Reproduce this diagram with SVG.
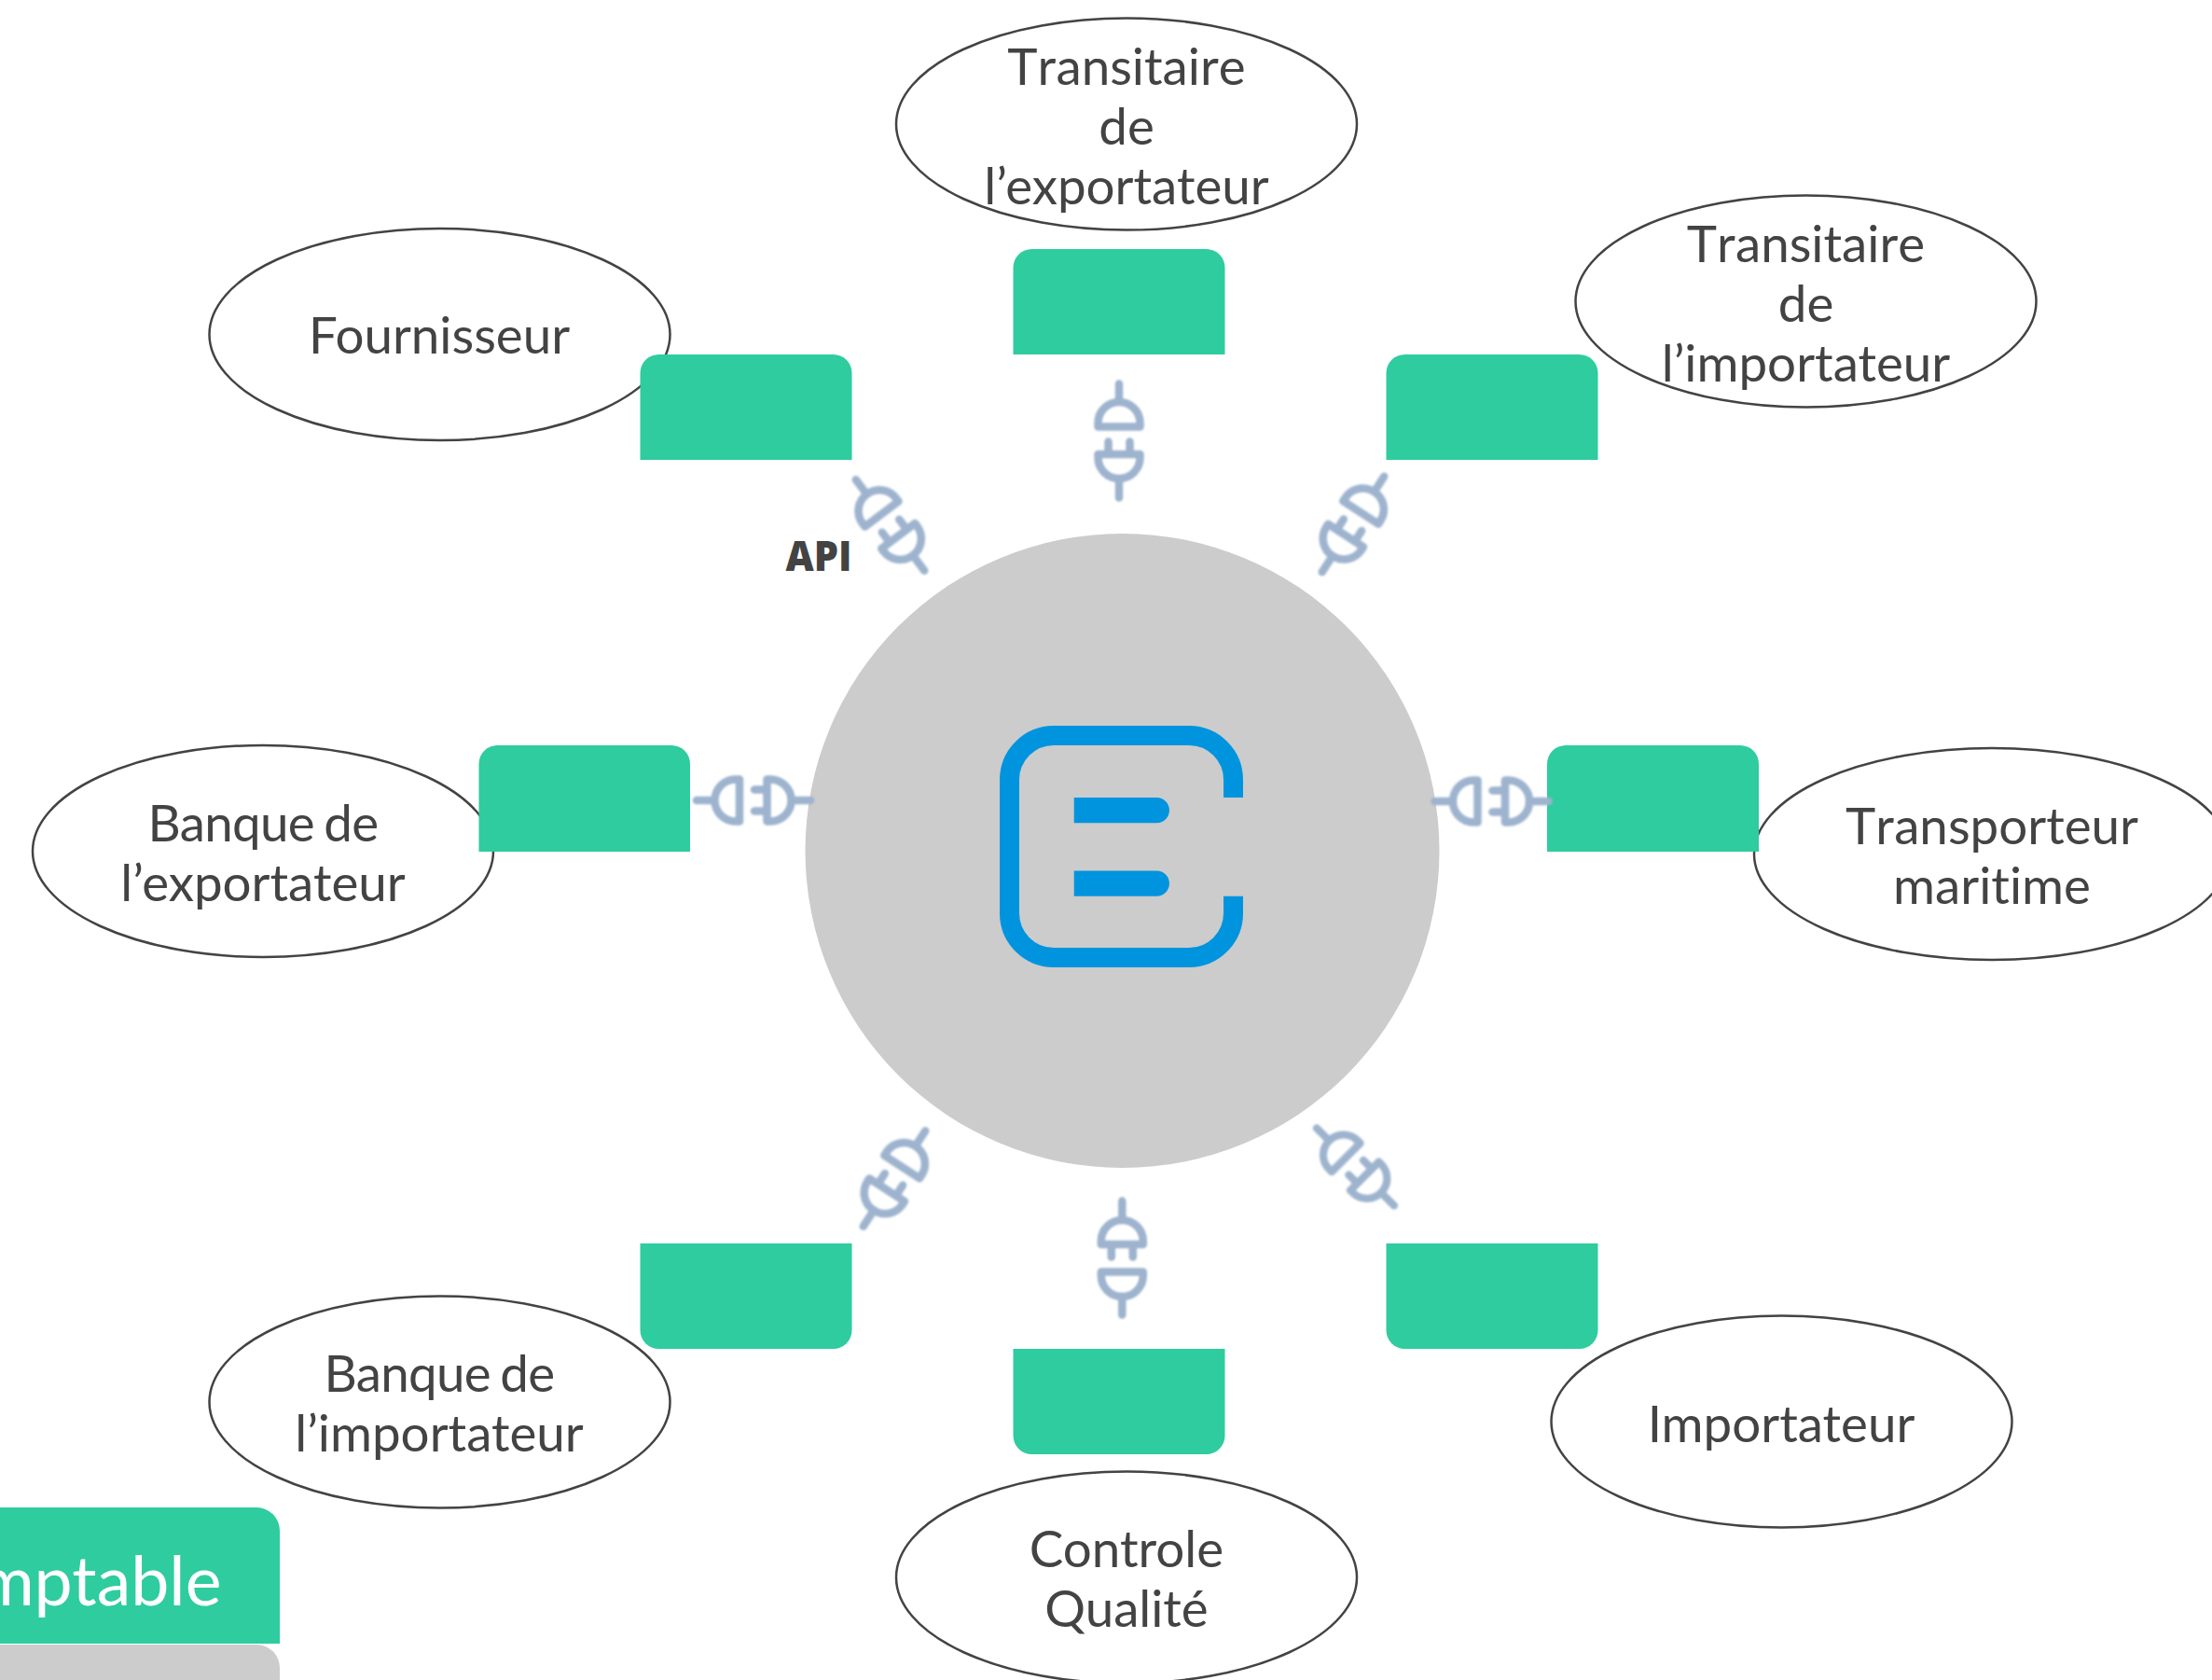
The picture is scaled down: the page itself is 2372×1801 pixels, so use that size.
<svg xmlns="http://www.w3.org/2000/svg" width="2372" height="1801" viewBox="0 0 2372 1801">
<style>
text{font-family:Lato,"Liberation Sans",sans-serif;fill:#434343;font-size:54.700px;text-anchor:middle;font-variant-ligatures:none}
.nk{font-kerning:none}
.ws{word-spacing:-3px;letter-spacing:-0.700px}
.e{fill:#fff;stroke:#434343;stroke-width:2.500}
.g{fill:#2ecc9f}
</style>
<defs>
<filter id="b" x="-20%" y="-20%" width="140%" height="140%"><feGaussianBlur stdDeviation="1"/></filter>
<g id="plug" fill="none" stroke="#9db3ce" stroke-width="8.500" stroke-linecap="round" stroke-linejoin="round" filter="url(#b)">
<path d="M-22.500-15V-19A22.500 22.500 0 0 1 22.500-19V-15ZM0-42V-61"/>
<path d="M-22.500 14.500V18A22.500 22.500 0 0 0 22.500 18V14.500ZM0 41V61M-11.500 14.500V1M11.500 14.500V1"/>
</g>
</defs>
<rect width="2372" height="1801" fill="#fff"/>
<g id="center"><circle cx="1203.500" cy="912" r="340" fill="#ccc"/>
<path d="M1322.500 855V836A47.500 47.500 0 0 0 1275 788.500H1130A47.500 47.500 0 0 0 1082.500 836V979A47.500 47.500 0 0 0 1130 1026.500H1275A47.500 47.500 0 0 0 1322.500 979V960.700" fill="none" stroke="#0094de" stroke-width="21"/>
<path d="M1151.700 855H1240.300A13.650 13.650 0 0 1 1240.300 882.300H1151.700ZM1151.700 933.400H1240.300A13.650 13.650 0 0 1 1240.300 960.700H1151.700Z" fill="#0094de"/></g>
<g id="n1"><ellipse class="e" cx="471.500" cy="358.500" rx="247" ry="113.500"/><text x="471" y="379">Fournisseur</text></g>
<g id="n2"><ellipse class="e" cx="1208" cy="133" rx="247" ry="113.500"/><text class="nk" x="1208" y="91">Transitaire</text><text x="1208" y="155">de</text><text x="1208" y="219">l’exportateur</text></g>
<g id="n3"><ellipse class="e" cx="1936.500" cy="323" rx="247" ry="113.500"/><text class="nk" x="1936.500" y="281">Transitaire</text><text x="1936.500" y="345">de</text><text x="1936.500" y="409">l’importateur</text></g>
<g id="n4"><ellipse class="e" cx="2136" cy="915.500" rx="255" ry="113.500"/><text class="nk" x="2136" y="905">Transporteur</text><text x="2136" y="969">maritime</text></g>
<g id="n5"><ellipse class="e" cx="282" cy="912.500" rx="247" ry="113.500"/><text class="ws" x="282" y="902">Banque de</text><text x="282" y="966">l’exportateur</text></g>
<g id="n6"><ellipse class="e" cx="471.500" cy="1503" rx="247" ry="113.500"/><text class="ws" x="471" y="1492">Banque de</text><text x="471" y="1556">l’importateur</text></g>
<g id="n7"><ellipse class="e" cx="1208" cy="1691" rx="247" ry="113.500"/><text x="1208" y="1680">Controle</text><text x="1208" y="1744">Qualité</text></g>
<g id="n8"><ellipse class="e" cx="1910.500" cy="1524" rx="247" ry="113.500"/><text x="1910" y="1546">Importateur</text></g>
<g id="boxes">
<path id="b1" class="g" d="M686.500 493V400a20 20 0 0 1 20-20H893.500a20 20 0 0 1 20 20V493Z"/>
<path id="b2" class="g" d="M1086.500 380V287a20 20 0 0 1 20-20H1293.500a20 20 0 0 1 20 20V380Z"/>
<path id="b3" class="g" d="M1486.500 493V400a20 20 0 0 1 20-20H1693.500a20 20 0 0 1 20 20V493Z"/>
<path id="b4" class="g" d="M1659 913V819a20 20 0 0 1 20-20H1866a20 20 0 0 1 20 20V913Z"/>
<path id="b5" class="g" d="M513.500 913V819a20 20 0 0 1 20-20H720a20 20 0 0 1 20 20V913Z"/>
<path id="b6" class="g" d="M686.500 1333V1426a20 20 0 0 0 20 20H893.500a20 20 0 0 0 20-20V1333Z"/>
<path id="b7" class="g" d="M1086.500 1446V1539a20 20 0 0 0 20 20H1293.500a20 20 0 0 0 20-20V1446Z"/>
<path id="b8" class="g" d="M1486.500 1333V1426a20 20 0 0 0 20 20H1693.500a20 20 0 0 0 20-20V1333Z"/>
</g>
<g id="connectors">
<use href="#plug" transform="translate(1200 472.500)"/>
<use href="#plug" transform="translate(954.500 563) rotate(-37)"/>
<use href="#plug" transform="translate(1451 562) rotate(33)"/>
<use href="#plug" transform="translate(1599.500 859) rotate(-90)"/>
<use href="#plug" transform="translate(808 858) rotate(-90)"/>
<use href="#plug" transform="translate(959 1263.500) rotate(33)"/>
<use href="#plug" transform="translate(1203.300 1348.500) rotate(180)"/>
<use href="#plug" transform="translate(1453.500 1251) rotate(-45) scale(0.96)"/>
</g>
<text id="api" x="878" y="611.700" textLength="71" lengthAdjust="spacingAndGlyphs" style="font-family:'Open Sans','Liberation Sans',sans-serif;font-size:44px;font-weight:800">API</text>
<g id="legend">
<path d="M0 1763H275a25 25 0 0 1 25 25V1801H0Z" fill="#ccc"/>
<path class="g" d="M0 1616H275a25 25 0 0 1 25 25V1762H0Z"/>
<text x="237.500" y="1720.700" style="fill:#fff;font-size:73.500px;text-anchor:end">mptable</text>
</g>
</svg>
